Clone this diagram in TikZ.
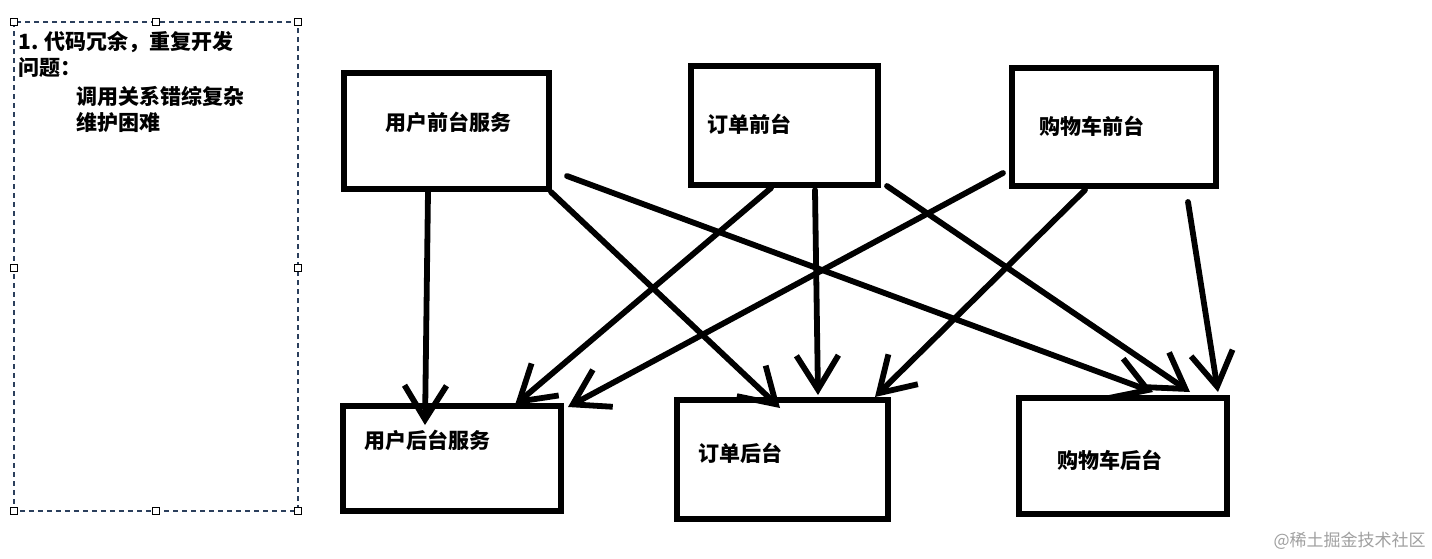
\documentclass[tikz,border=0pt]{standalone}
\usepackage{fontspec}
\newfontfamily\cjk{Noto Sans CJK SC}
\usetikzlibrary{arrows.meta}
\definecolor{selblue}{HTML}{2B3F5C}
\definecolor{wmgray}{HTML}{A0A0A0}
\begin{document}
\begin{tikzpicture}[x=0.5pt,y=-0.5pt,
  box/.style={draw=black, line width=3pt, rectangle, inner sep=0pt},
  lbl/.style={anchor=west, inner sep=0pt, font=\cjk\bfseries\fontsize{10.5pt}{12pt}\selectfont},
  note/.style={anchor=west, inner sep=0pt, font=\cjk\bfseries\fontsize{10.5pt}{12pt}\selectfont},
  handle/.style={draw=black, fill=white, line width=0.6pt, minimum size=3.5pt, inner sep=0pt, rectangle},
  link/.style={line width=2.9pt, line cap=round, -{Straight Barb[length=17pt,width=21pt,line width=2.9pt]}},
  sel/.style={draw=selblue, line width=0.8pt, dash pattern=on 2.5pt off 2pt}
]
\useasboundingbox (0,0) rectangle (1432,558);
\fill[white] (0,0) rectangle (1432,558);

% selection frame
\draw[sel] (14,22) rectangle (298,511);
\foreach \n/\x/\y in {h1/14/22,h2/156/22,h3/298/22,h4/14/268,h5/298/268,h6/14/511,h7/156/511,h8/298/511}
  \node[handle] (\n) at (\x,\y) {};

\node[note] (t1) at (18,42) {1. 代码冗余，重复开发};
\node[note] (t2) at (18,68) {问题：};
\node[note] (t3) at (76,96) {调用关系错综复杂};
\node[note] (t4) at (76,122) {维护困难};

% boxes
\node[box, minimum width=102.5pt, minimum height=58pt] (A) at (446.5,131) {};
\node[box, minimum width=93.5pt, minimum height=59.5pt] (B) at (784.5,125.5) {};
\node[box, minimum width=102pt, minimum height=59pt] (C) at (1114,127) {};
\node[box, minimum width=109pt, minimum height=52.5pt] (D) at (452,458.5) {};
\node[box, minimum width=105.5pt, minimum height=59.5pt] (E) at (782.5,459.5) {};
\node[box, minimum width=104pt, minimum height=58pt] (F) at (1123,456) {};

\node[lbl] (At) at (385,122) {用户前台服务};
\node[lbl] (Bt) at (707,124) {订单前台};
\node[lbl] (Ct) at (1039,126) {购物车前台};
\node[lbl] (Dt) at (364,440) {用户后台服务};
\node[lbl] (Et) at (698,453) {订单后台};
\node[lbl] (Ft) at (1057,460) {购物车后台};

% connector end points
\coordinate (a1s) at (428,192);  \coordinate (a1e) at (425,425);
\coordinate (a2s) at (551,192);  \coordinate (a2e) at (780,408);
\coordinate (a3s) at (567,176);  \coordinate (a3e) at (1153,392);
\coordinate (b1s) at (771,188);  \coordinate (b1e) at (515,405);
\coordinate (b2s) at (815,190);  \coordinate (b2e) at (818,395);
\coordinate (b3s) at (887,186);  \coordinate (b3e) at (1190,392);
\coordinate (c1s) at (1003,173); \coordinate (c1e) at (568,407);
\coordinate (c2s) at (1085,190); \coordinate (c2e) at (875,397);
\coordinate (c3s) at (1188,202); \coordinate (c3e) at (1218,392);

\draw[link] (a1s) -- (a1e);
\draw[link] (a2s) -- (a2e);
\draw[link] (a3s) -- (a3e);
\draw[link] (b1s) -- (b1e);
\draw[link] (b2s) -- (b2e);
\draw[link] (b3s) -- (b3e);
\draw[link] (c1s) -- (c1e);
\draw[link] (c2s) -- (c2e);
\draw[link] (c3s) -- (c3e);

% watermark
\node[anchor=east, inner sep=0pt, text=wmgray, font=\cjk\fontsize{8.5pt}{10pt}\selectfont] (wm) at (1426,541) {@稀土掘金技术社区};
\end{tikzpicture}
\end{document}
